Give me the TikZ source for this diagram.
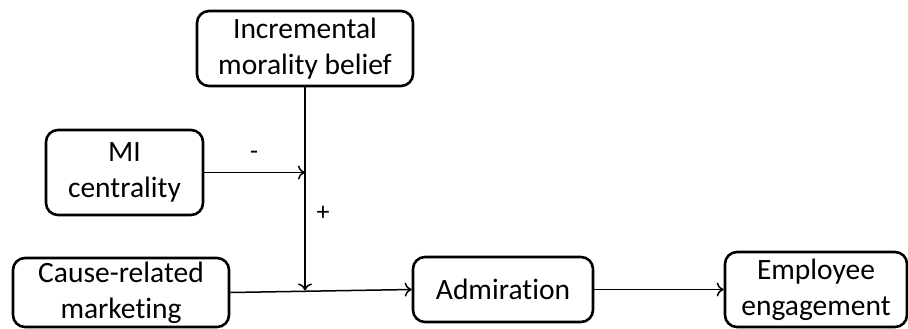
\documentclass[tikz,border=0pt]{standalone}
\usepackage{fontspec}
\setmainfont[Ligatures={NoCommon}]{Carlito}
\usetikzlibrary{arrows.meta}
\begin{document}
\begin{tikzpicture}[x=1pt,y=-1pt,
  box/.style={draw, line width=2.6pt, rounded corners=12pt, align=center, inner sep=0pt,
    font=\fontsize{29.5}{36}\selectfont},
  conn/.style={line width=1.5pt, -{To[length=7pt,width=14pt,line width=1.5pt]}},
  lbl/.style={font=\fontsize{26}{30}\selectfont}]
\useasboundingbox (0,0) rectangle (908,329);
\node[box, minimum width=216pt, minimum height=75pt] (inc) at (305,48.5) {Incremental\\morality belief};
\node[box, minimum width=157pt, minimum height=85pt] (mi) at (124.5,172.5) {MI\\centrality};
\node[box, minimum width=216pt, minimum height=69pt] (crm) at (121,292.5) {Cause-related\\marketing};
\node[box, minimum width=180pt, minimum height=65pt] (adm) at (503,289.5) {Admiration};
\node[box, minimum width=182pt, minimum height=75pt] (emp) at (816,289.5) {Employee\\engagement};
\coordinate (m) at (inc.south |- mi.east);
\coordinate (j) at (305,290.5);
\draw[conn] (mi.east) -- (m);
\draw[conn] (inc.south) -- (j);
\draw[conn] (crm.east) -- (adm.west);
\draw[conn] (adm.east) -- (emp.west);
\node[lbl] (minus) at (254,155) {-};
\node[lbl] (plus) at (323,213) {+};
\end{tikzpicture}
\end{document}
